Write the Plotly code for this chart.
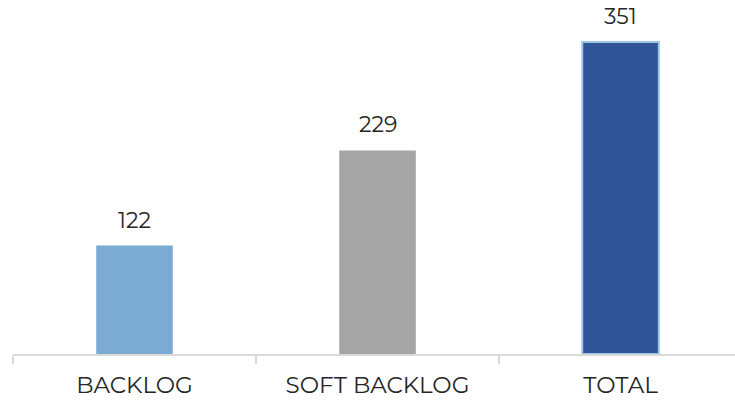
import plotly.graph_objects as go

# Backlog summary values
categories = ["BACKLOG", "SOFT BACKLOG", "TOTAL"]
values = [122, 229, 351]
bar_colors = ["#7BAAD3", "#A5A5A5", "#2F5597"]
outline_colors = ["#7BAAD3", "#A5A5A5", "#9DC3E6"]

FONT = "Montserrat, DejaVu Sans, sans-serif"

fig = go.Figure(
    go.Bar(
        x=categories,
        y=values,
        marker=dict(color=bar_colors, line=dict(color=outline_colors, width=[0, 0, 2])),
        width=0.315,
        hoverinfo="x+y",
    )
)

# value labels above each bar
for cat, val in zip(categories, values):
    fig.add_annotation(
        x=cat, y=val, text=str(val), showarrow=False,
        yanchor="bottom", yshift=10,
        font=dict(family=FONT, size=22, color="#262626"),
    )

fig.update_layout(
    width=735, height=400,
    margin=dict(l=13, r=0, t=10, b=46),
    paper_bgcolor="white", plot_bgcolor="white",
    showlegend=False,
    xaxis=dict(
        type="category",
        range=[-0.5, 2.471],
        showline=True, linecolor="#D9D9D9", linewidth=2,
        tickson="boundaries", ticks="outside", ticklen=8,
        tickcolor="#D9D9D9", tickwidth=2,
        ticklabelstandoff=9,
        tickfont=dict(family=FONT, size=23, color="#262626"),
        showgrid=False, zeroline=False,
    ),
    yaxis=dict(range=[0, 387], visible=False, showgrid=False, zeroline=False),
)

fig.write_html("out.html")
